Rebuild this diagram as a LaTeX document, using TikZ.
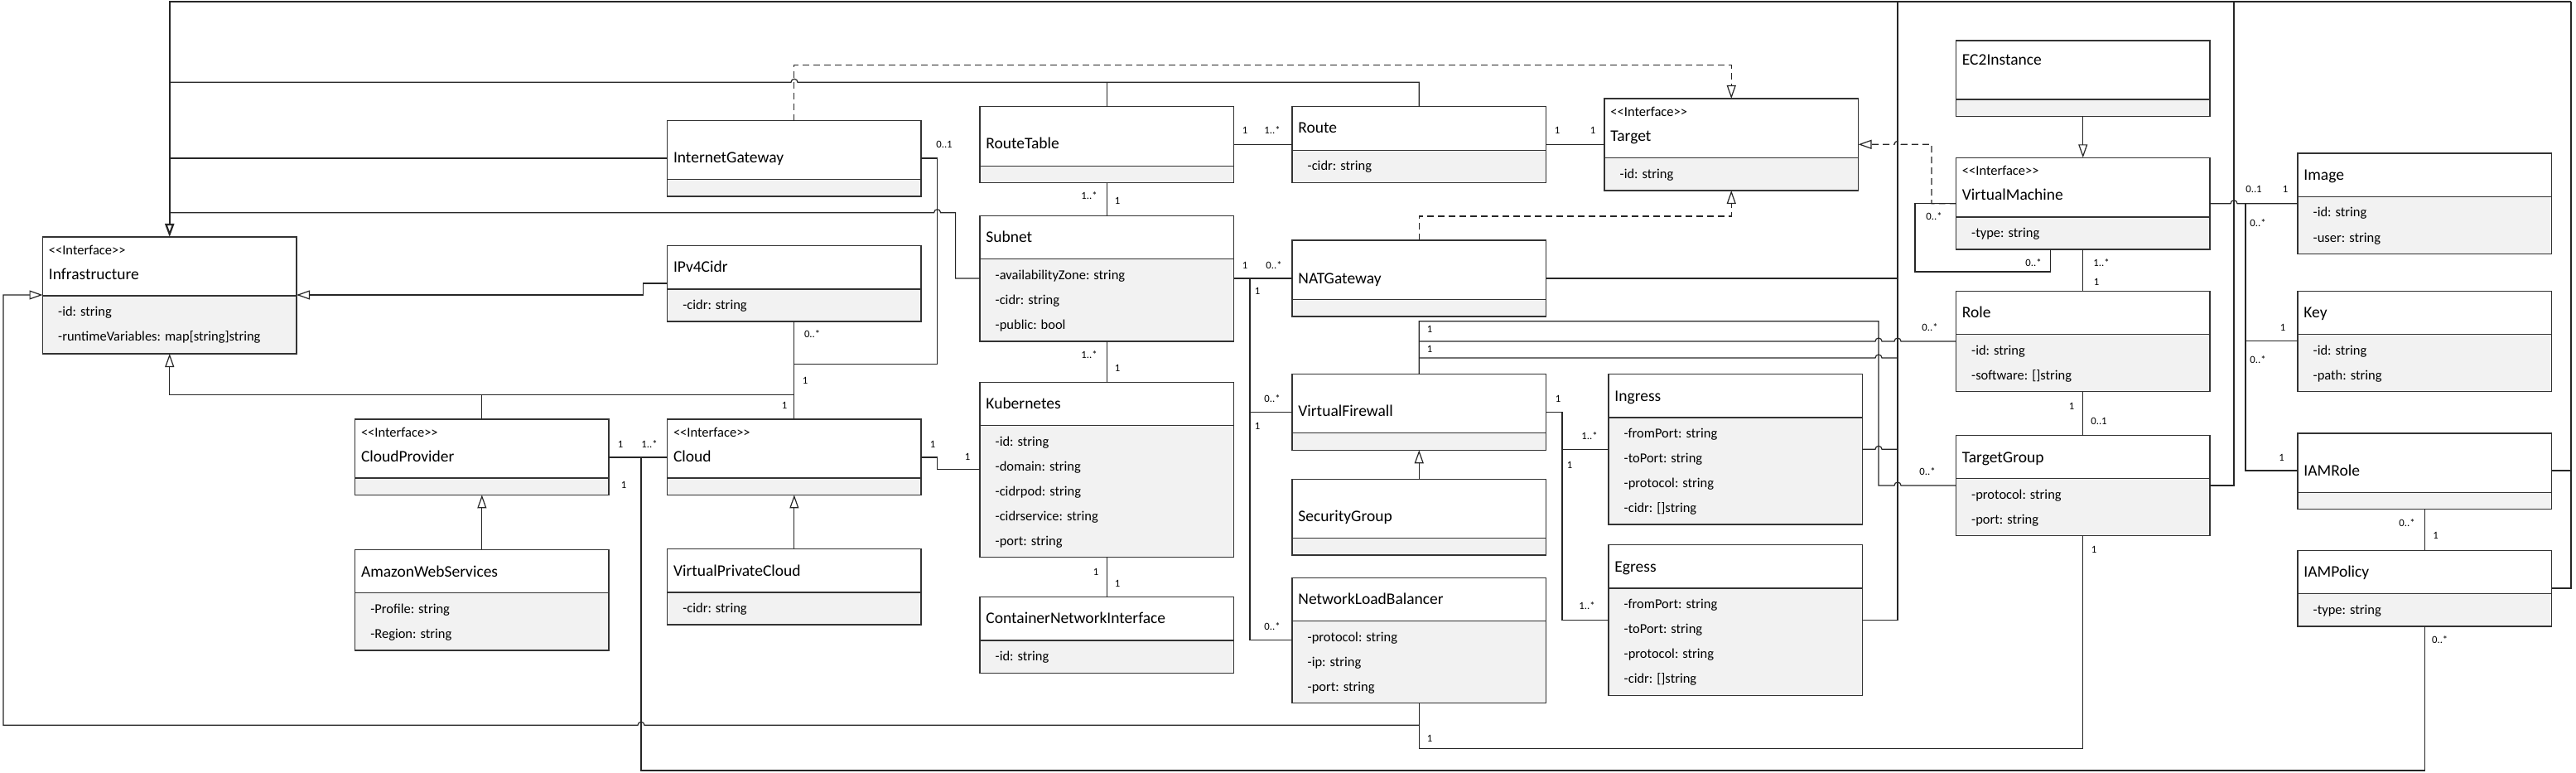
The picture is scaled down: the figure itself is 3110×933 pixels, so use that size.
\documentclass[tikz,border=0pt]{standalone}
\usepackage{fontspec}
\setmainfont{Carlito}
\usetikzlibrary{arrows.meta}

\tikzset{
  classbox/.style={fill=white, draw=none, inner sep=0pt, outer sep=0pt,
    minimum width=306.5pt, anchor=north west},
  boxline/.style={draw=black!80, line width=1.4pt},
  attrfill/.style={fill=black!5},
  cname/.style={anchor=west, inner sep=0pt, text height=16pt, text depth=4pt,
    font=\fontsize{19.5}{23}\selectfont},
  attr/.style={anchor=west, inner sep=0pt, text height=13pt, text depth=3.6pt,
    font=\fontsize{16.5}{20}\selectfont},
  stereo/.style={attr, text height=13pt, text depth=3pt},
  mult/.style={inner sep=0pt, text height=10.5pt, text depth=2.5pt,
    font=\fontsize{12.7}{15}\selectfont},
  conn/.style={draw=black!85, line width=1.2pt},
  gen/.style={conn, -{Triangle[open, length=16pt, width=11pt]}},
  realize/.style={gen, dash pattern=on 8pt off 5pt}
}

% name, top left, title height, compartment height, name offset, title, attributes
\newcommand{\umlclass}[7]{%
  \node[classbox, minimum height={(#3+#4)*1pt}] (#1) at (#2) {};
  \fill[attrfill] ([yshift=-#3pt]#1.north west) rectangle (#1.south east);
  \draw[boxline] (#1.north west) rectangle (#1.south east);
  \draw[boxline] ([yshift=-#3pt]#1.north west) -- ([yshift=-#3pt]#1.north east);
  \node[cname] (#1-name) at ([xshift=7.2pt,yshift=-#5pt]#1.north west) {#6};
  \foreach \att [count=\i] in {#7}
    \node[attr] (#1-attr\i) at ([xshift=18.5pt,yshift={-(#3+20+30*(\i-1))*1pt}]#1.north west) {\att};
}
\newcommand{\ifc}{<\kern0pt<Interface>\kern0pt>}

\begin{document}
\begin{tikzpicture}[x=1pt,y=-1pt]
  \useasboundingbox (0,0) rectangle (3110,933);

  \umlclass{infra}{51.5,286}{71}{70}{45}{Infrastructure}{{-id: string},{-runtimeVariables: map[string]string}}
  \umlclass{provider}{428.6,506}{71}{20.4}{45}{CloudProvider}{}
  \umlclass{aws}{428.6,663.3}{52.4}{69.3}{26.7}{AmazonWebServices}{{-Profile: string},{-Region: string}}
  \umlclass{igw}{805.6,145.7}{71}{20.3}{45}{InternetGateway}{}
  \umlclass{cidr}{805.6,296.3}{52.7}{39}{26.4}{IPv4Cidr}{{-cidr: string}}
  \umlclass{cloud}{805.6,506}{71}{20.4}{45}{Cloud}{}
  \umlclass{vpc}{805.6,662.3}{52.7}{39}{26.7}{VirtualPrivateCloud}{{-cidr: string}}
  \umlclass{rtable}{1183,128.7}{71.6}{20.4}{45.3}{RouteTable}{}
  \umlclass{subnet}{1183,260.3}{52.4}{99.3}{25.7}{Subnet}{{-availabilityZone: string},{-cidr: string},{-public: bool}}
  \umlclass{k8s}{1183,461.3}{52}{159}{26}{Kubernetes}{{-id: string},{-domain: string},{-cidrpod: string},{-cidrservice: string},{-port: string}}
  \umlclass{cni}{1183,720.7}{52.3}{39.3}{26}{ContainerNetworkInterface}{{-id: string}}
  \umlclass{route}{1560,128.7}{52.6}{39.4}{26.3}{Route}{{-cidr: string}}
  \umlclass{natgw}{1560,290}{71.3}{20.7}{46}{NATGateway}{}
  \umlclass{vfw}{1560,451.7}{71}{20.6}{45}{VirtualFirewall}{}
  \umlclass{secgroup}{1560,578.3}{71}{20.7}{45}{SecurityGroup}{}
  \umlclass{nlb}{1560,697.3}{52}{99.4}{26}{NetworkLoadBalancer}{{-protocol: string},{-ip: string},{-port: string}}
  \umlclass{target}{1937,119}{71.7}{39.3}{46}{Target}{{-id: string}}
  \umlclass{ingress}{1942,451.7}{52.3}{129}{26.6}{Ingress}{{-fromPort: string},{-toPort: string},{-protocol: string},{-cidr: []string}}
  \umlclass{egress}{1942,657.7}{52.3}{129.3}{26.6}{Egress}{{-fromPort: string},{-toPort: string},{-protocol: string},{-cidr: []string}}
  \umlclass{ec2}{2361.5,49}{71}{20.3}{23.3}{EC2Instance}{}
  \umlclass{vm}{2361.5,190.3}{71.7}{39}{45}{VirtualMachine}{{-type: string}}
  \umlclass{role}{2361.5,351.3}{52}{69.4}{26}{Role}{{-id: string},{-software: []string}}
  \umlclass{tgroup}{2361.5,525.7}{52}{69}{26.6}{TargetGroup}{{-protocol: string},{-port: string}}
  \umlclass{image}{2774,185}{52.3}{69.3}{26.3}{Image}{{-id: string},{-user: string}}
  \umlclass{key}{2774,351.3}{52}{69.4}{26}{Key}{{-id: string},{-path: string}}
  \umlclass{iamrole}{2774,523}{71.3}{20}{45}{IAMRole}{}
  \umlclass{iampolicy}{2774,664.3}{52.4}{39.4}{25.7}{IAMPolicy}{{-type: string}}

  \node[stereo] (infra-st) at ([xshift=7.2pt,yshift=-17pt]infra.north west) {\ifc};
  \node[stereo] (provider-st) at ([xshift=7.2pt,yshift=-16.7pt]provider.north west) {\ifc};
  \node[stereo] (cloud-st) at ([xshift=7.2pt,yshift=-16.7pt]cloud.north west) {\ifc};
  \node[stereo] (target-st) at ([xshift=7.2pt,yshift=-16.7pt]target.north west) {\ifc};
  \node[stereo] (vm-st) at ([xshift=7.2pt,yshift=-16.7pt]vm.north west) {\ifc};

  \coordinate (trunkE) at (2291,2);
  \coordinate (trunkT) at (2697,2);
  \coordinate (trunkR) at (3104,2);

  % realisations of Infrastructure
  \draw[gen, line width=2.2pt] (trunkR) -- (infra.north |- trunkR) -- (infra.north);
  \draw[conn, line width=1.6pt] (egress.east |- 0,748.3) -| (trunkE);
  \draw[conn] (natgw.east |- 0,336) -- (trunkE |- 0,336);
  \draw[conn] (ingress.east |- 0,542.3) -- (2264,542.3) arc[start angle=180,end angle=0,radius=4pt] -- (trunkE |- 0,542.3);
  \draw[conn] (tgroup.east |- 0,586) -| (trunkT);
  \draw[conn] (iamrole.east |- 0,568) -- (trunkR |- 0,568);
  \draw[conn] (iampolicy.east |- 0,710) -| (trunkR);
  \draw[conn] (vfw.north |- 0,432) -- (2264,432) arc[start angle=180,end angle=0,radius=4pt] -- (trunkE |- 0,432);
  \draw[conn] (route.north) |- (963,99.3) arc[start angle=0,end angle=180,radius=4pt] -- (infra.north |- 0,99.3);
  \draw[conn] (rtable.north) -- (rtable.north |- 0,99.3);
  \draw[conn] (igw.west |- 0,191) -- (infra.north |- 0,191);
  \draw[conn] (subnet.west |- 0,336) -| (1153.6,256.7) -- (1135.6,256.7) arc[start angle=0,end angle=180,radius=4pt] -- (infra.north |- 0,256.7);
  \draw[gen] (nlb.south |- 0,875.3) -- (778,875.3) arc[start angle=0,end angle=180,radius=4pt] -- (4,875.3) |- (infra.west |- 0,356);
  \draw[gen] (cidr.west |- 0,342) -| (776.5,356) -- (infra.east |- 0,356);
  \draw[gen] (cloud.north |- 0,476.3) -| (infra.south);
  \draw[conn] (provider.north) -- (provider.north |- 0,476.3);

  % realisations of Target
  \draw[realize] (igw.north) |- (target.north |- 0,78.3) -- (target.north);
  \draw[realize] (natgw.north) |- (target.south |- 0,261) -- (target.south);
  \draw[realize] (vm.west |- 0,245.7) -| (2332,174.3) -- (2295,174.3) arc[start angle=0,end angle=180,radius=4pt] -- (target.east |- 0,174.3);

  % generalisations
  \draw[gen] (aws.north) -- (provider.south);
  \draw[gen] (vpc.north) -- (cloud.south);
  \draw[gen] (secgroup.north) -- (vfw.south);
  \draw[gen] (ec2.south) -- (vm.north);

  % associations
  \draw[conn] (cidr.south) -- (cloud.north);
  \draw[conn] (igw.east |- 0,191) -| (1131.6,439.3) -- (cidr.south |- 0,439.3);
  \draw[conn] (provider.east |- 0,552) -- (cloud.west |- 0,552);
  \draw[conn] (provider.east |- 0,552) -| (774,930) -| (iampolicy.south);
  \draw[conn] (cloud.east |- 0,552) -| (1131.6,566.7) -- (k8s.west |- 0,566.7);
  \draw[conn] (rtable.east |- 0,174.7) -- (route.west |- 0,174.7);
  \draw[conn] (route.east |- 0,174.7) -- (target.west |- 0,174.7);
  \draw[conn] (rtable.south) -- (subnet.north);
  \draw[conn] (subnet.south) -- (k8s.north);
  \draw[conn] (k8s.south) -- (cni.north);
  \draw[conn] (subnet.east |- 0,336) -- (natgw.west |- 0,336);
  \draw[conn] (subnet.east |- 0,336) -| (1509,772.7) -- (nlb.west |- 0,772.7);
  \draw[conn] (vfw.west |- 0,497.3) -- (1509,497.3);
  \draw[conn] (vfw.east |- 0,497.3) -| (1886,748.3) -- (egress.west |- 0,748.3);
  \draw[conn] (ingress.west |- 0,542.3) -- (1886,542.3);
  \draw[conn] (vfw.north) |- (2268,387.7) -- (2268,586) -- (2287,586) arc[start angle=180,end angle=0,radius=4pt] -- (tgroup.west |- 0,586);
  \draw[conn] (vfw.north |- 0,412) -- (2264,412) arc[start angle=180,end angle=0,radius=4pt] -- (2287,412) arc[start angle=180,end angle=0,radius=4pt] -- (role.west |- 0,412);
  \draw[conn] (vm.west |- 0,245.7) -| (2312,328) -| (vm.south -| 2475.6,0);
  \draw[conn] (vm.south) -- (role.north);
  \draw[conn] (role.south) -- (tgroup.north);
  \draw[conn] (tgroup.south) |- (nlb.south |- 0,903.3) -- (nlb.south);
  \draw[conn] (vm.east |- 0,245.7) -- (2693,245.7) arc[start angle=180,end angle=0,radius=4pt] -- (image.west |- 0,245.7);
  \draw[conn] (iamrole.west |- 0,568) -| (2711,245.7);
  \draw[conn] (key.west |- 0,411.7) -- (2711,411.7);
  \draw[conn] (iamrole.south) -- (iampolicy.north);

  % multiplicities
  \foreach \pos/\txt [count=\k] in {
      {749,536}/1, {784,536}/{1..*}, {753,585}/1, {980.6,403.7}/{0..*},
      {972,459}/1, {947,489}/1, {1140,175}/{0..1}, {1126,536}/1, {1168,551}/1,
      {1503,158}/1, {1536,158}/{1..*}, {1880,158}/1, {1923,158}/1,
      {1315,237}/{1..*}, {1349,243}/1, {1503,320}/1, {1538,320}/{0..*},
      {1518,351.7}/1, {1315,428}/{1..*}, {1349,444}/1, {1323,690}/1, {1349,704}/1,
      {1536,481}/{0..*}, {1518,514}/1, {1536,756.7}/{0..*},
      {1881,481}/1, {1919,526}/{1..*}, {1895,561}/1, {1916,731.7}/{1..*},
      {1726,397.7}/1, {1726,421}/1, {1726,891}/1,
      {2330,395}/{0..*}, {2327,569}/{0..*}, {2335,262}/{0..*}, {2455,317.7}/{0..*},
      {2537,317.7}/{1..*}, {2531,340.7}/1, {2501,490}/1, {2534,508}/{0..1},
      {2528,663.3}/1, {2721,229}/{0..1}, {2759,229}/1, {2726,269.3}/{0..*},
      {2756,395}/1, {2726,434.3}/{0..*}, {2754.5,552}/1,
      {2906,631.7}/{0..*}, {2940.5,646.7}/1, {2945.7,772.3}/{0..*}}
    \node[mult] (m\k) at (\pos) {\txt};
\end{tikzpicture}
\end{document}
